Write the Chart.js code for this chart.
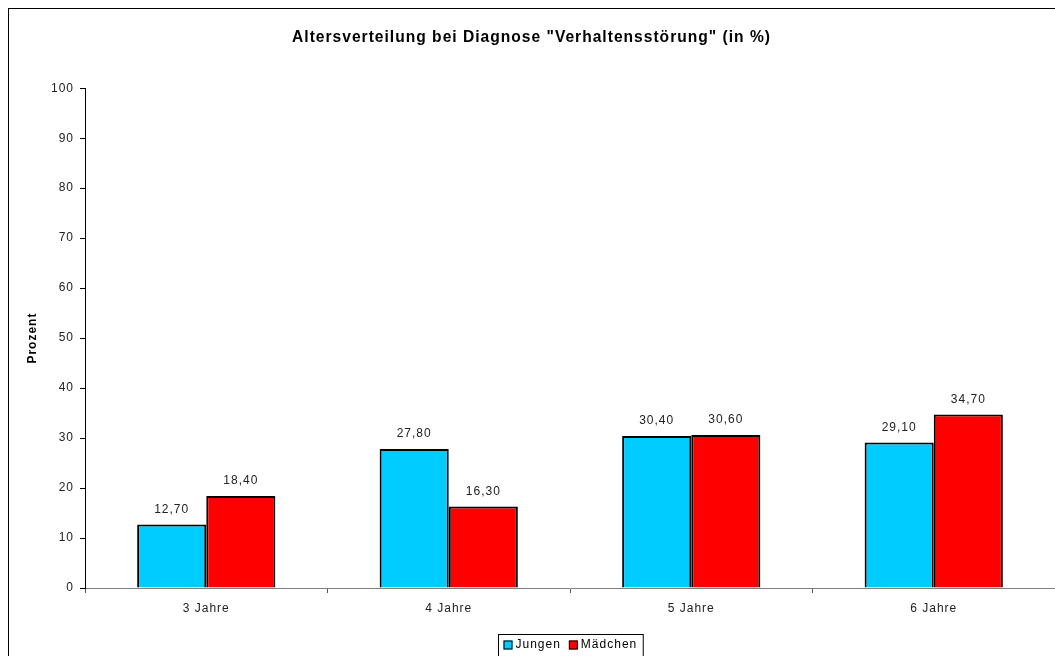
<!DOCTYPE html>
<html>
<head>
<meta charset="utf-8">
<script src="https://cdn.jsdelivr.net/npm/chart.js@4/dist/chart.umd.min.js"></script>
<style>
  html, body { margin: 0; padding: 0; background: #fff; }
  #wrap { width: 1055px; height: 656px; position: relative; }
</style>
</head>
<body>
<div id="wrap"><canvas id="c" width="1055" height="656"></canvas></div>
<script>
// Age groups and percentages per sex
const categories = ['3 Jahre', '4 Jahre', '5 Jahre', '6 Jahre'];
const jungen = [12.7, 27.8, 30.4, 29.1];
const maedchen = [18.4, 16.3, 30.6, 34.7];
const seriesNames = ['Jungen', 'Mädchen'];
const yTicks = [0, 10, 20, 30, 40, 50, 60, 70, 80, 90, 100];

const FONT = 'Arial, "Liberation Sans", sans-serif';
const SPACING = '1px';
const fmt = v => v.toFixed(2).replace('.', ',');

// Wide letter spacing for all text, plus the outer frame around the chart
const framePlugin = {
  id: 'frame',
  beforeLayout(chart) { chart.ctx.letterSpacing = SPACING; },
  beforeDraw(chart) {
    const ctx = chart.ctx;
    ctx.letterSpacing = SPACING;
    ctx.save();
    ctx.fillStyle = '#fff';
    ctx.fillRect(0, 0, chart.width, chart.height);
    ctx.strokeStyle = '#000';
    ctx.lineWidth = 1;
    ctx.strokeRect(8.5, 8.5, chart.width + 20, chart.height + 20);
    ctx.restore();
  }
};

// Value labels above each bar
const valueLabels = {
  id: 'valueLabels',
  afterDatasetsDraw(chart) {
    const ctx = chart.ctx;
    ctx.save();
    ctx.letterSpacing = SPACING;
    ctx.font = '12px ' + FONT;
    ctx.fillStyle = '#222';
    ctx.textAlign = 'center';
    ctx.textBaseline = 'bottom';
    chart.data.datasets.forEach((ds, i) => {
      chart.getDatasetMeta(i).data.forEach((bar, j) => {
        ctx.fillText(fmt(ds.data[j]), bar.x, bar.y - 9);
      });
    });
    ctx.restore();
  }
};

// Boxed legend below the axis
const boxLegend = {
  id: 'boxLegend',
  afterDraw(chart) {
    const ctx = chart.ctx;
    ctx.save();
    ctx.letterSpacing = SPACING;
    ctx.font = '12px ' + FONT;
    const sw = 9, gap = 3, sep = 8, padL = 5, padR = 6;
    const items = chart.data.datasets.map(ds => ({
      text: ds.label, color: ds.backgroundColor,
      w: sw + gap + ctx.measureText(ds.label).width
    }));
    const total = items.reduce((a, it) => a + it.w, 0) + sep * (items.length - 1) + padL + padR;
    const cx = (chart.chartArea.left + chart.chartArea.right) / 2;
    const left = Math.round(cx - total / 2) + 0.5;
    const top = 634.5;
    ctx.strokeStyle = '#000';
    ctx.lineWidth = 1;
    ctx.strokeRect(left, top, total, 40);
    let x = left + padL;
    const midY = 645;
    items.forEach(it => {
      ctx.fillStyle = it.color;
      ctx.fillRect(x, midY - 4.5, sw, sw);
      ctx.strokeStyle = '#000';
      ctx.strokeRect(x + 0.5, midY - 4, sw - 1, sw - 1);
      ctx.fillStyle = '#000';
      ctx.textAlign = 'left';
      ctx.textBaseline = 'middle';
      ctx.fillText(it.text, x + sw + gap, midY);
      x += it.w + sep;
    });
    ctx.restore();
  }
};

new Chart(document.getElementById('c'), {
  type: 'bar',
  data: {
    labels: categories,
    datasets: [
      { label: seriesNames[0], data: jungen, backgroundColor: '#00CCFF', borderColor: '#000', borderWidth: 2 },
      { label: seriesNames[1], data: maedchen, backgroundColor: '#FF0000', borderColor: '#000', borderWidth: 2 }
    ]
  },
  options: {
    responsive: false,
    animation: false,
    events: [],
    layout: { padding: { top: 8, left: 8, right: 0, bottom: 0 } },
    datasets: { bar: { categoryPercentage: 0.57, barPercentage: 1.0 } },
    plugins: {
      legend: { display: false },
      tooltip: { enabled: false },
      title: {
        display: true,
        text: 'Altersverteilung bei Diagnose "Verhaltensstörung" (in %)',
        color: '#000',
        font: { family: FONT, size: 15.6, weight: 'bold' },
        padding: { top: 20, bottom: 41.5 }
      }
    },
    scales: {
      x: {
        grid: { display: true, drawOnChartArea: false, tickLength: 5, color: '#555', offset: true },
        border: { display: true, color: '#808080', width: 1 },
        ticks: { color: '#222', font: { family: FONT, size: 12 }, padding: 8, maxRotation: 0 },
        afterFit(scale) { scale.height = 68; }
      },
      y: {
        min: 0, max: 100,
        afterBuildTicks(scale) { scale.ticks = yTicks.map(v => ({ value: v })); },
        grid: { display: true, drawOnChartArea: false, tickLength: 5, color: '#000' },
        border: { display: true, color: '#000', width: 1 },
        ticks: { color: '#222', font: { family: FONT, size: 12 }, padding: 6 },
        title: {
          display: true, text: 'Prozent', color: '#000',
          font: { family: FONT, size: 12, weight: 'bold' },
          padding: { top: 17, bottom: 0 }
        },
        afterFit(scale) { scale.width = 77; }
      }
    }
  },
  plugins: [framePlugin, valueLabels, boxLegend]
});
</script>
</body>
</html>
